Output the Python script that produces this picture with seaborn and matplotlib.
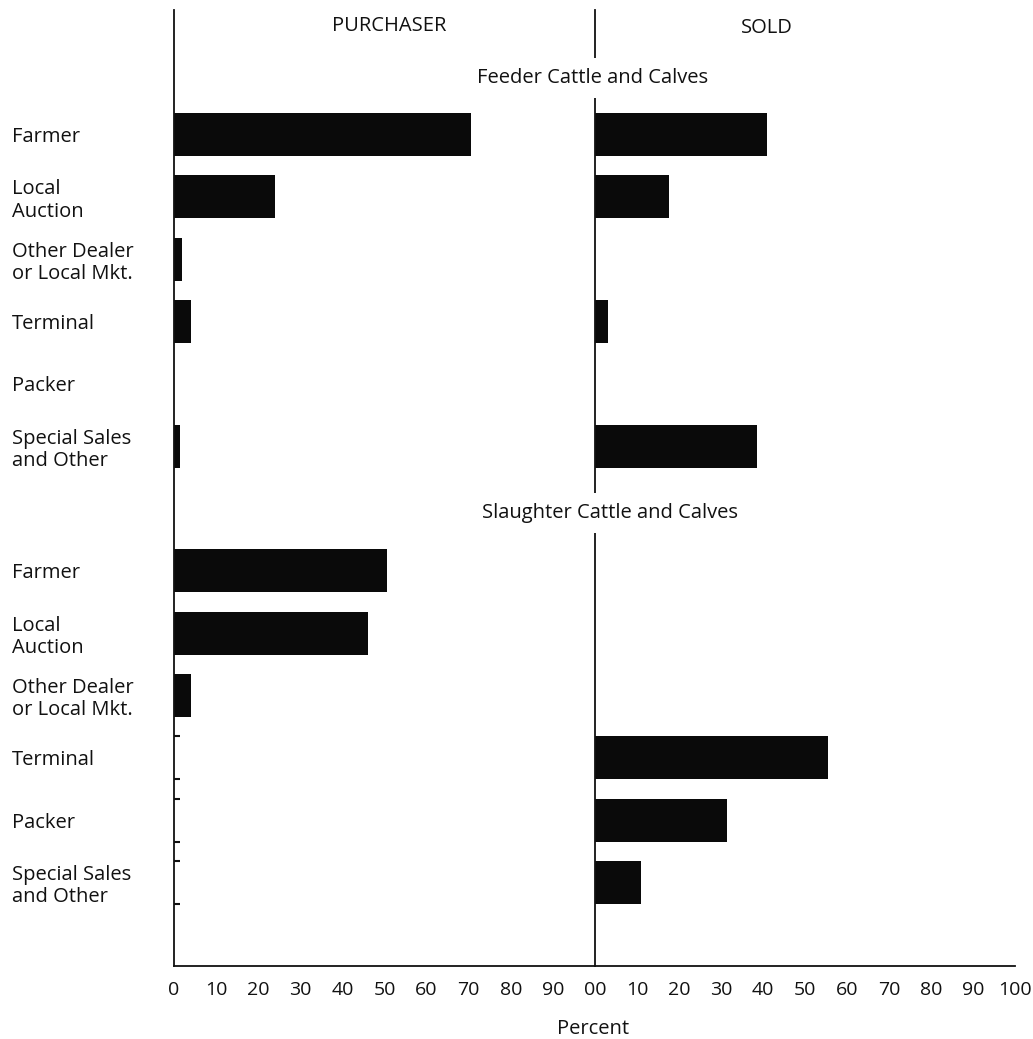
import matplotlib
matplotlib.use('Agg')
import matplotlib.pyplot as plt
import seaborn as sns
import pandas as pd

# outlet categories, same order in both sections
outlets = ['Farmer', 'Local\nAuction', 'Other Dealer\nor Local Mkt.',
           'Terminal', 'Packer', 'Special Sales\nand Other']

# percent values
feeder_purchaser = [70.5, 24, 2, 4, 0, 1.5]
feeder_sold = [41, 17.5, 0, 3, 0, 38.5]
slaughter_purchaser = [50.5, 46, 4, 0, 0, 0]
slaughter_sold = [0, 0, 0, 55.5, 31.5, 11]

left_ticks = [0, 10, 20, 30, 40, 50, 60, 70, 80, 90]
right_ticks = [0, 10, 20, 30, 40, 50, 60, 70, 80, 90, 100]
right_tick_labels = ['00', '10', '20', '30', '40', '50', '60', '70', '80', '90', '100']

# rows: feeder 0-5, a blank row for the section title, slaughter 7-12
rows = list(range(6)) + list(range(7, 13))
df = pd.DataFrame({
    'row': rows,
    'label': outlets * 2,
    'section': ['Feeder'] * 6 + ['Slaughter'] * 6,
    'purchaser': feeder_purchaser + slaughter_purchaser,
    'sold': feeder_sold + slaughter_sold,
})

sns.set_style('white')
plt.rcParams['font.family'] = ['Open Sans', 'DejaVu Sans']
plt.rcParams['text.color'] = '#111111'

W, H = 1033, 1039
fig = plt.figure(figsize=(W / 100, H / 100), dpi=100)
axL = fig.add_axes([174 / W, 1 - 966 / H, 421 / W, 956 / H])
axR = fig.add_axes([595 / W, 1 - 966 / H, 420 / W, 956 / H])

bar_w = 0.69
sns.barplot(data=df, x='purchaser', y='row', orient='h', native_scale=True,
            color='#0a0a0a', width=bar_w, errorbar=None, saturation=1,
            linewidth=0, ax=axL)
sns.barplot(data=df, x='sold', y='row', orient='h', native_scale=True,
            color='#0a0a0a', width=bar_w, errorbar=None, saturation=1,
            linewidth=0, ax=axR)

# little edge marks left by the empty slaughter purchaser bars
zero = df[(df['section'] == 'Slaughter') & (df['purchaser'] == 0)]
for r in zero['row']:
    axL.hlines([r - bar_w / 2, r + bar_w / 2], 0, 1.5, color='#111111', lw=1.5)

for ax in (axL, axR):
    ax.set_xlim(0, 100)
    ax.set_ylim(13.34, -2.0)
    ax.set_xlabel('')
    ax.set_ylabel('')
    for s in ('top', 'right'):
        ax.spines[s].set_visible(False)
    for s in ('left', 'bottom'):
        ax.spines[s].set_color('#111111')
        ax.spines[s].set_linewidth(1.3)
    ax.tick_params(axis='x', direction='in', length=4, width=1.3,
                   colors='#111111', labelsize=14, pad=11)
    ax.patch.set_alpha(0)

axL.set_xticks(left_ticks)
axL.set_xticklabels([str(t) for t in left_ticks])
axR.set_xticks(right_ticks)
axR.set_xticklabels(right_tick_labels)

axL.set_yticks(df['row'])
axL.set_yticklabels(df['label'], linespacing=1.15)
axL.tick_params(axis='y', length=0, pad=117, labelsize=14.5, colors='#111111')
for t in axL.get_yticklabels():
    t.set_ha('left')
axR.set_yticks([])

axL.text(0.51, 0.983, 'PURCHASER', transform=axL.transAxes, ha='center',
         va='center', fontsize=14.5)
axR.text(0.41, 0.981, 'SOLD', transform=axR.transAxes, ha='center',
         va='center', fontsize=14.5)

box = dict(boxstyle='square,pad=0.5', fc='white', ec='none')
fig.text(593 / W, 1 - 78 / H, 'Feeder Cattle and Calves', ha='center',
         va='center', fontsize=14.5, bbox=box, zorder=5)
fig.text(610 / W, 1 - 513 / H, 'Slaughter Cattle and Calves', ha='center',
         va='center', fontsize=14.5, bbox=box, zorder=5)
fig.text(593 / W, 1 - 1029 / H, 'Percent', ha='center', va='center', fontsize=14.5)

fig.savefig('out.png', dpi=100, facecolor='white')
